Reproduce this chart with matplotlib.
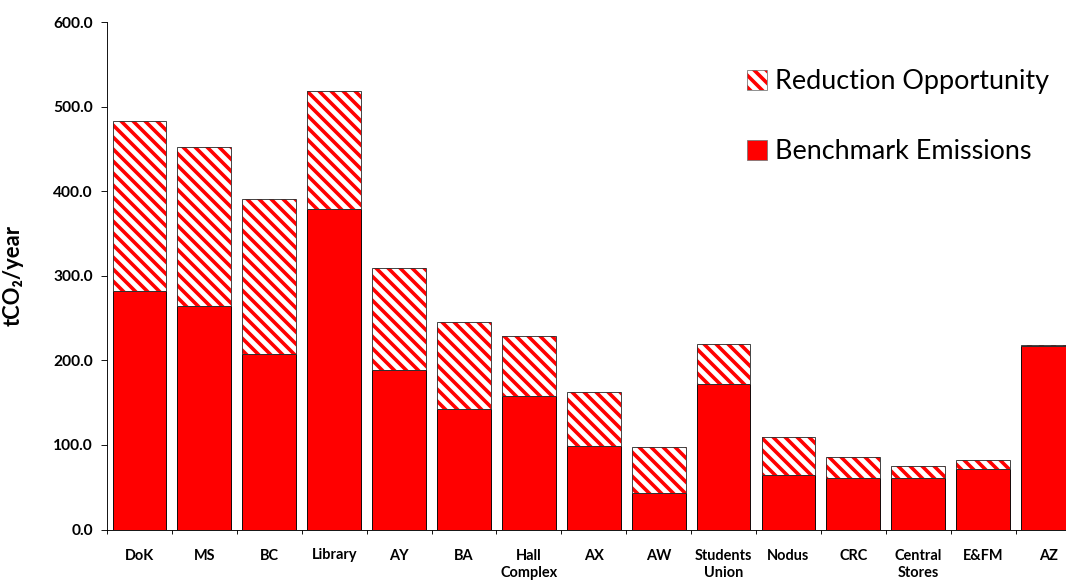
import matplotlib.pyplot as plt
import numpy as np
from matplotlib.patches import Patch

# building names along the x axis
buildings = ["DoK", "MS", "BC", "Library", "AY", "BA", "Hall\nComplex", "AX", "AW",
             "Students\nUnion", "Nodus", "CRC", "Central\nStores", "E&FM", "AZ"]
# tCO2/year
benchmark = [282, 264, 208, 379, 189, 143, 158, 99, 43, 172, 65, 61, 61, 71, 217]
reduction = [201, 188, 183, 139, 120, 102, 71, 64, 55, 47, 44, 25, 14, 11, 1]
yticks = [0, 100, 200, 300, 400, 500, 600]

plt.rcParams['font.family'] = ['Lato', 'DejaVu Sans']
plt.rcParams['hatch.linewidth'] = 3.6

# dpi 72 so the hatch spacing matches the stripes
fig = plt.figure(figsize=(1066 / 72, 583 / 72), dpi=72)
ax = fig.add_axes([107 / 1066, 53.5 / 583, 973.5 / 1066, 507.5 / 583])

x = np.arange(len(buildings))
w = 0.83
ax.bar(x, benchmark, w, color='#FF0000', edgecolor='black', linewidth=0.9)
ax.bar(x, reduction, w, bottom=benchmark, facecolor='white', edgecolor='#FF0000',
       hatch='\\\\', linewidth=0)
ax.bar(x, reduction, w, bottom=benchmark, fill=False, edgecolor='#333333', linewidth=0.9)

ax.set_xlim(-0.5, len(buildings) - 0.5)
ax.set_ylim(0, 600)
ax.set_yticks(yticks)
ax.set_yticklabels([f"{v:.1f}" for v in yticks], fontsize=15.5, fontweight='bold')
ax.tick_params(axis='y', direction='out', length=6, width=0.9, pad=8)

# ticks between categories, labels at the centres
ax.set_xticks(np.arange(-0.5, len(buildings), 1))
ax.set_xticklabels([])
ax.tick_params(axis='x', which='major', direction='out', length=4, width=0.9)
ax.set_xticks(x, minor=True)
ax.set_xticklabels(buildings, minor=True, fontsize=14.5, fontweight='bold',
                   linespacing=1.3, va='top')
ax.tick_params(axis='x', which='minor', length=0, pad=19)

for s in ['top', 'right']:
    ax.spines[s].set_visible(False)
for s in ['left', 'bottom']:
    ax.spines[s].set_linewidth(0.9)

ax.set_ylabel("tCO\u2082/year", fontsize=22, fontweight='bold')
ax.yaxis.set_label_coords(-0.086, 0.5)

h_red = (Patch(facecolor='white', edgecolor='#FF0000', hatch='\\\\', linewidth=0),
         Patch(fill=False, edgecolor='#777777', linewidth=0.8))
h_bench = Patch(facecolor='#FF0000', edgecolor='#777777', linewidth=0.8)
ax.legend([h_red, h_bench], ["Reduction Opportunity", "Benchmark Emissions"],
          loc='upper left', bbox_to_anchor=(733 / 1066, 1 - 56 / 583),
          bbox_transform=fig.transFigure, frameon=False, fontsize=27,
          handlelength=0.75, handleheight=0.75, handletextpad=0.3,
          labelspacing=1.65, borderpad=0)

fig.savefig("out.png", dpi=72)
